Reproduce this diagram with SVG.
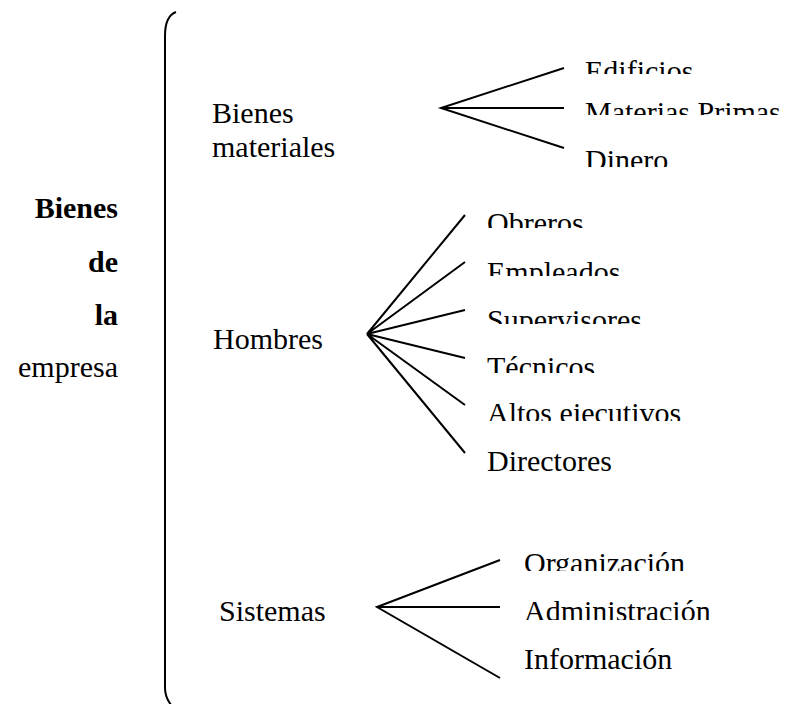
<svg xmlns="http://www.w3.org/2000/svg" width="788" height="704" viewBox="0 0 788 704" font-family="'Liberation Serif', 'Times New Roman', Times, serif">
<style>
text{font-family:'Liberation Serif','Times New Roman',Times,serif;font-size:30px;fill:#000}
.b{font-weight:bold}
.r{text-anchor:end}
.ln{stroke:#000;stroke-width:2;fill:none;stroke-linecap:butt}
</style>
<defs>
<clipPath id="c1"><rect x="560" y="40" width="228" height="34"/></clipPath>
<clipPath id="c2"><rect x="560" y="90" width="228" height="25"/></clipPath>
<clipPath id="c3"><rect x="560" y="140" width="228" height="27"/></clipPath>
<clipPath id="h1"><rect x="480" y="200" width="300" height="28"/></clipPath>
<clipPath id="h2"><rect x="480" y="250" width="300" height="26"/></clipPath>
<clipPath id="h3"><rect x="480" y="298" width="300" height="26"/></clipPath>
<clipPath id="h4"><rect x="480" y="340" width="300" height="33"/></clipPath>
<clipPath id="h5"><rect x="480" y="390" width="300" height="31"/></clipPath>
<clipPath id="s1"><rect x="515" y="540" width="260" height="31"/></clipPath>
<clipPath id="s2"><rect x="515" y="590" width="260" height="30"/></clipPath>
</defs>
<rect width="788" height="704" fill="#fff"/>
<g id="root">
<text class="b r" x="118" y="218">Bienes</text>
<text class="b r" x="118" y="272">de</text>
<text class="b r" x="118" y="325">la</text>
<text class="r" x="118" y="377">empresa</text>
</g>
<g id="bienes-materiales">
<text x="212" y="123">Bienes</text>
<text x="212" y="157">materiales</text>
</g>
<g id="hombres"><text x="213" y="349">Hombres</text></g>
<g id="sistemas"><text x="219" y="621">Sistemas</text></g>
<g id="edificios" clip-path="url(#c1)"><text x="585" y="81">Edificios</text></g>
<g id="materias-primas" clip-path="url(#c2)"><text x="585" y="122">Materias Primas</text></g>
<g id="dinero" clip-path="url(#c3)"><text x="585" y="170">Dinero</text></g>
<g id="obreros" clip-path="url(#h1)"><text x="487" y="233">Obreros</text></g>
<g id="empleados" clip-path="url(#h2)"><text x="487" y="282">Empleados</text></g>
<g id="supervisores" clip-path="url(#h3)"><text x="487" y="330">Supervisores</text></g>
<g id="tecnicos" clip-path="url(#h4)"><text x="487" y="377">Técnicos</text></g>
<g id="altos-ejecutivos" clip-path="url(#h5)"><text x="487" y="423">Altos ejecutivos</text></g>
<g id="directores"><text x="487" y="471">Directores</text></g>
<g id="organizacion" clip-path="url(#s1)"><text x="524" y="573">Organización</text></g>
<g id="administracion" clip-path="url(#s2)"><text x="524" y="621">Administración</text></g>
<g id="informacion"><text x="524" y="669">Información</text></g>
<g id="connectors">
<path class="ln" d="M176,12 Q165,16 165,36 L165,688 Q165,698 172,706"/>
<path class="ln" d="M564,68 L441,108 L564,148 M441,108 L564,108"/>
<path class="ln" d="M465,215 L367,334 L465,262 M367,334 L465,310 M367,334 L465,358 M367,334 L465,405 M367,334 L465,453"/>
<path class="ln" d="M500,560 L377,607 L500,678 M377,607 L500,607"/>
</g>
</svg>
